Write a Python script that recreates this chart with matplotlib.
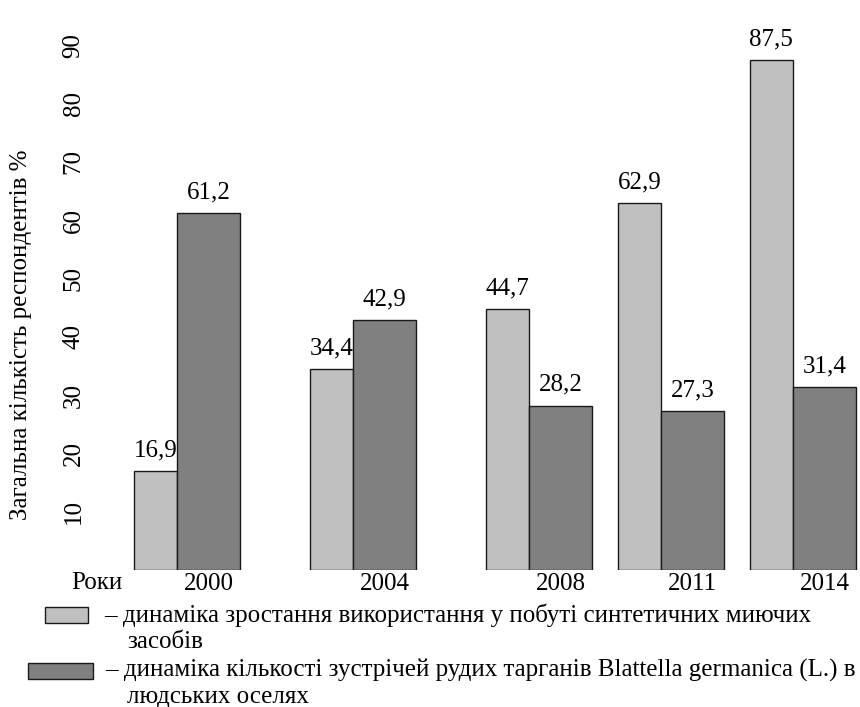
""" Synthetic detergents vs. cockroach encounters, by survey year """
import numpy as np
from matplotlib import pyplot as plt
from matplotlib.patches import Rectangle

plt.rcParams['font.family'] = ['Liberation Serif', 'DejaVu Serif']

# Survey data
years = [2000, 2004, 2008, 2011, 2014]
detergents = [16.9, 34.4, 44.7, 62.9, 87.5]
cockroaches = [61.2, 42.9, 28.2, 27.3, 31.4]
yticks = [10, 20, 30, 40, 50, 60, 70, 80, 90]

ylabel = 'Загальна кількість респондентів %'
xlabel = 'Роки'
lbl_det = ['– динаміка зростання використання у побуті синтетичних миючих',
           'засобів']
lbl_cock = ['– динаміка кількості зустрічей рудих тарганів Blattella germanica (L.) в',
            'людських оселях']

clr_light = '#c0c0c0'
clr_dark = '#808080'
w_light = 0.97
w_dark = 1.45
fs = 18

W, H = 860, 707
fig = plt.figure(figsize=(W/100, H/100), dpi=100)
ax = fig.add_axes([100/W, (H-570)/H, 760/W, 560/H])

x = np.array(years, dtype=float)
b1 = ax.bar(x, detergents, width=w_light, align='edge',
            color=clr_light, edgecolor='#1a1a1a', lw=1.0)
b2 = ax.bar(x + w_light, cockroaches, width=w_dark, align='edge',
            color=clr_dark, edgecolor='#1a1a1a', lw=1.0)

def fmt(vals):
    return [f'{v:.1f}'.replace('.', ',') for v in vals]

ax.bar_label(b1, labels=fmt(detergents), padding=7, fontsize=fs)
ax.bar_label(b2, labels=fmt(cockroaches), padding=7, fontsize=fs)

# Axes
ax.set_xlim(2000 - 34/44, 2000 - 34/44 + 760/44)
ax.set_ylim(0, 560/5.83)
ax.set_xticks(x + w_light + w_dark/2)
ax.set_xticklabels([str(y) for y in years], fontsize=fs)
ax.set_yticks(yticks)
ax.set_yticklabels([str(t) for t in yticks], fontsize=18,
                   rotation=90, va='center')
ax.tick_params(length=0)
ax.tick_params(axis='x', pad=2)
ax.tick_params(axis='y', pad=11)
for sp in ax.spines.values():
    sp.set_visible(False)

ax.set_ylabel(ylabel, fontsize=18)
ax.yaxis.set_label_coords(-0.09, 0.42)

fig.text(71/W, (H-583)/H, xlabel, fontsize=fs, va='center')

# Legend, drawn by hand
fig.add_artist(Rectangle((45/W, (H-623)/H), 43/W, 16/H, transform=fig.transFigure,
                         facecolor=clr_light, edgecolor='#1a1a1a', lw=1.0))
fig.add_artist(Rectangle((28/W, (H-679)/H), 65/W, 16/H, transform=fig.transFigure,
                         facecolor=clr_dark, edgecolor='#1a1a1a', lw=1.0))
fig.text(104/W, (H-615)/H, lbl_det[0], fontsize=fs, va='center')
fig.text(127/W, (H-642)/H, lbl_det[1], fontsize=fs, va='center')
fig.text(105/W, (H-670)/H, lbl_cock[0], fontsize=fs, va='center')
fig.text(127/W, (H-697)/H, lbl_cock[1], fontsize=fs, va='center')

plt.savefig('out.png', dpi=100)
print('Saved out.png')
